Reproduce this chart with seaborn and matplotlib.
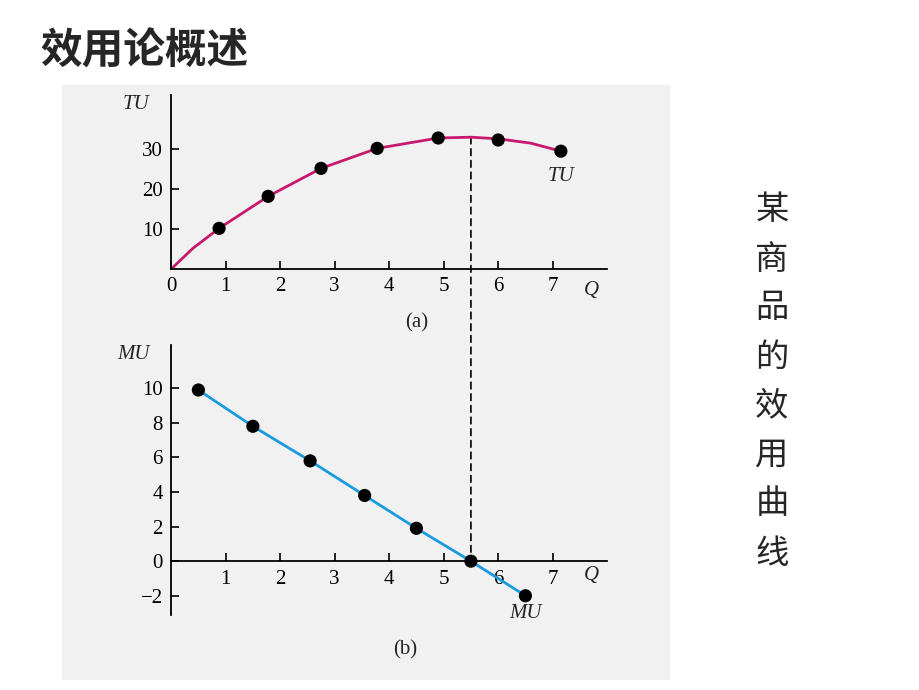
import numpy as np
import matplotlib.pyplot as plt
import seaborn as sns
from matplotlib.patches import ConnectionPatch, Rectangle

sns.set_theme(style="white")
plt.rcParams['font.family'] = ['Liberation Serif', 'DejaVu Serif']

# data
tu_q = [0.88, 1.78, 2.75, 3.78, 4.9, 6.0, 7.15]
tu_v = [10.2, 18.2, 25.2, 30.2, 32.8, 32.3, 29.5]
tu_curve_q = [0, 0.4, 0.88, 1.78, 2.75, 3.78, 4.9, 5.5, 6.0, 6.6, 7.15]
tu_curve_v = [0, 5.2, 10.2, 18.2, 25.2, 30.2, 32.8, 33.0, 32.6, 31.5, 29.5]
mu_q = [0.5, 1.5, 2.55, 3.55, 4.5, 5.5, 6.5]
mu_v = [9.9, 7.8, 5.8, 3.8, 1.9, 0.0, -2.0]
x_ticks = [1, 2, 3, 4, 5, 6, 7]
tu_ticks = [10, 20, 30]
mu_ticks = [-2, 0, 2, 4, 6, 8, 10]
side_text = "某商品的效用曲线"

fig = plt.figure(figsize=(9.2, 6.9), dpi=100)
fig.patches.append(Rectangle((62/920, 10/690), 608/920, 595/690, transform=fig.transFigure,
                             facecolor='#f1f1f1', edgecolor='none', zorder=-5))

axa = fig.add_axes([0.186, 0.61, 0.474, 0.252])
axb = fig.add_axes([0.186, 0.109, 0.474, 0.391])
for ax in (axa, axb):
    ax.set_zorder(2)
    ax.set_facecolor('none')
    for s in ('top', 'right'):
        ax.spines[s].set_visible(False)
    for s in ('left', 'bottom'):
        ax.spines[s].set_color('black')
        ax.spines[s].set_linewidth(1.3)
    ax.tick_params(direction='in', length=6, width=1.2, labelsize=15, colors='black',
                   left=True, bottom=True, pad=6)

# (a)
sns.lineplot(x=tu_curve_q, y=tu_curve_v, ax=axa, color='#c8186e', lw=2)
sns.scatterplot(x=tu_q, y=tu_v, ax=axa, color='black', s=90, zorder=5, edgecolor='none')
axa.set_xlim(0, 8)
axa.set_ylim(0, 43.5)
axa.set_xticks([0] + x_ticks)
axa.set_yticks(tu_ticks)
axa.text(-0.05, 1.0, 'TU', transform=axa.transAxes, ha='right', va='top', style='italic', fontsize=15)
axa.text(7.85, -3, 'Q', ha='right', va='top', style='italic', fontsize=15)
axa.text(7.15, 25.5, 'TU', ha='center', va='top', style='italic', fontsize=15)
axa.text(4.5, -11, '(a)', ha='center', va='top', fontsize=15)

# (b)
sns.lineplot(x=mu_q, y=mu_v, ax=axb, color='#1a9be0', lw=2)
sns.scatterplot(x=mu_q, y=mu_v, ax=axb, color='black', s=90, zorder=5, edgecolor='none')
axb.set_xlim(0, 8)
axb.set_ylim(-3.1, 12.5)
axb.spines['bottom'].set_position(('data', 0))
axb.set_xticks(x_ticks)
axb.set_yticks(mu_ticks)
axb.set_yticklabels(['\u22122' if t == -2 else str(t) for t in mu_ticks])
axb.text(-0.05, 1.0, 'MU', transform=axb.transAxes, ha='right', va='top', style='italic', fontsize=15)
axb.text(7.85, -0.3, 'Q', ha='right', va='top', style='italic', fontsize=15)
axb.text(6.5, -2.5, 'MU', ha='center', va='top', style='italic', fontsize=15)
axb.text(4.3, -4.6, '(b)', ha='center', va='top', fontsize=15)

con = ConnectionPatch(xyA=(5.5, 33.0), coordsA=axa.transData, xyB=(5.5, 0), coordsB=axb.transData,
                      color='black', lw=1.2, linestyle=(0, (4, 3)))
fig.add_artist(con)

fig.text(40/920, 1 - 52/690, '效用论概述', fontsize=30, fontweight='bold', va='center', ha='left',
         family=['Noto Sans CJK SC', 'DejaVu Sans'])
for i, ch in enumerate(side_text):
    fig.text(772/920, 1 - (210 + i * 49) / 690, ch, fontsize=24, ha='center', va='center',
             family=['Noto Sans CJK SC', 'DejaVu Sans'])

fig.savefig('out.png', dpi=100)
